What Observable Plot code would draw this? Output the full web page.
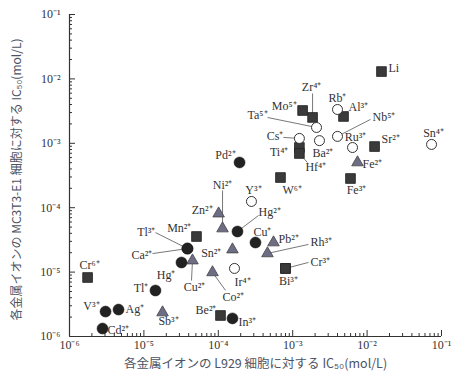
<!DOCTYPE html>
<html><head><meta charset="utf-8">
<script src="https://cdn.jsdelivr.net/npm/d3@7"></script>
<script src="https://cdn.jsdelivr.net/npm/@observablehq/plot@0.6"></script>
<style>body{margin:0;background:#fff} #chart{width:460px;height:379px}</style>
</head><body><div id="chart"></div>
<script>
// ---- data (IC50, mol/L) ----
const ions  = ["Li","Zr⁴⁺","Mo⁵⁺","Rb⁺","Al³⁺","Ta⁵⁺","Nb⁵⁺","Cs⁺","Ti⁴⁺","Hf⁴⁺","Ba²⁺","Ru³⁺","Sr²⁺","Sn⁴⁺","Fe²⁺","Fe³⁺","W⁶⁺","Pd²⁺","Y³⁺","Zn²⁺","Ni²⁺","Hg²⁺","Cu⁺","Pb²⁺","Rh³⁺","Bi³⁺","Cr³⁺","Ir⁴⁺","Co²⁺","Sn²⁺","Be²⁺","In³⁺","Mn²⁺","Tl³⁺","Ca²⁺","Hg⁺","Cu²⁺","Tl⁺","V³⁺","Ag⁺","Cd²⁺","Sb³⁺","Cr⁶⁺"];
const l929  = [1.56e-2,1.85e-3,1.36e-3,4.0e-3,4.82e-3,2.09e-3,4.0e-3,1.23e-3,1.23e-3,1.23e-3,2.29e-3,6.37e-3,1.26e-2,7.35e-2,7.43e-3,5.98e-3,6.85e-4,1.93e-4,2.79e-4,1.01e-4,1.14e-4,1.81e-4,3.16e-4,5.52e-4,4.58e-4,8.0e-4,8.0e-4,1.65e-4,8.36e-5,1.55e-4,1.07e-4,1.55e-4,5.09e-5,3.85e-5,3.85e-5,3.2e-5,4.5e-5,1.43e-5,3.05e-6,4.56e-6,2.78e-6,1.78e-5,1.75e-6];
const mc3t3 = [1.30e-2,2.52e-3,3.23e-3,3.35e-3,2.61e-3,1.76e-3,1.28e-3,1.19e-3,8.6e-4,6.95e-4,1.10e-3,8.6e-4,8.9e-4,9.6e-4,5.04e-4,2.84e-4,2.94e-4,5.04e-4,1.25e-4,8.1e-5,4.75e-5,4.27e-5,2.88e-5,2.88e-5,1.95e-5,1.14e-5,1.14e-5,1.14e-5,9.9e-6,2.24e-5,2.12e-6,1.91e-6,3.57e-5,2.32e-5,2.32e-5,1.41e-5,1.51e-5,5.18e-6,2.44e-6,2.62e-6,1.33e-6,2.36e-6,8.24e-6];
const group = ["square","square","square","open","square","open","open","open","square","square","open","open","square","open","triangle","square","square","filled","open","triangle","triangle","filled","filled","triangle","triangle","square","square","open","triangle","triangle","square","filled","square","filled","filled","filled","triangle","filled","filled","filled","filled","triangle","square"];

const decades = [1e-6,1e-5,1e-4,1e-3,1e-2,1e-1];
const tickLabels = ["10⁻⁶","10⁻⁵","10⁻⁴","10⁻³","10⁻²","10⁻¹"];
const xTitle = "各金属イオンの L929 細胞に対する IC₅₀(mol/L)";
const yTitle = "各金属イオンの MC3T3-E1 細胞に対する IC₅₀(mol/L)";

// ---- label layout (pixel offsets from marker) ----
const labelLayout = {
 "Li":["start",7,-3],"Zr⁴⁺":["middle",-1,-30],"Mo⁵⁺":["end",-6,-4],"Rb⁺":["middle",0,-11],"Al³⁺":["start",5,-9],
 "Ta⁵⁺":["end",-49,-12],"Nb⁵⁺":["start",35,-19],"Cs⁺":["end",-16,-2],"Ti⁴⁺":["end",-11,5],"Hf⁴⁺":["start",6,14],
 "Ba²⁺":["start",-7,13],"Ru³⁺":["middle",3,-10],"Sr²⁺":["start",7,-7],"Sn⁴⁺":["middle",2,-11],"Fe²⁺":["start",5,2],
 "Fe³⁺":["middle",6,12],"W⁶⁺":["start",2,13],"Pd²⁺":["end",-4,-7],"Y³⁺":["middle",2,-11],"Zn²⁺":["end",-6,-3],
 "Ni²⁺":["middle",0,-43],"Hg²⁺":["start",21,-19],"Cu⁺":["start",-2,-10],"Pb²⁺":["start",5,-3],"Rh³⁺":["start",43,-11],
 "Bi³⁺":["middle",3,13],"Cr³⁺":["start",25,-6],"Ir⁴⁺":["middle",8,14],"Co²⁺":["start",10,25],"Sn²⁺":["end",-11,4],
 "Be²⁺":["end",-4,-5],"In³⁺":["start",6,4],"Mn²⁺":["end",-5,-8],"Tl³⁺":["end",-32,-16],"Ca²⁺":["end",-35,7],
 "Hg⁺":["end",-6,13],"Cu²⁺":["middle",2,27],"Tl⁺":["end",-7,-2],"V³⁺":["end",-6,-5],"Ag⁺":["start",7,0],
 "Cd²⁺":["start",5,2],"Sb³⁺":["middle",6,9],"Cr⁶⁺":["middle",2,-12]
};
const connectors = {"Zr⁴⁺":[0,-24],"Ta⁵⁺":[-49,-10],"Nb⁵⁺":[33,-17],"Cs⁺":[-16,-1],"Hf⁴⁺":[8,9],"Ni²⁺":[0,-38],
 "Hg²⁺":[21,-16],"Rh³⁺":[41,-9],"Cr³⁺":[23,-6],"Co²⁺":[13,18],"Tl³⁺":[-32,-16],"Ca²⁺":[-35,5],"Cu²⁺":[-1,20]};

const W = 460, H = 379, ML = 69, MR = 19, MT = 14, MB = 43;
const dpx = (W - ML - MR) / 5, dpy = (H - MT - MB) / 5;

const data = ions.map((ion, i) => ({ion, x: l929[i], y: mc3t3[i], g: group[i],
  anchor: labelLayout[ion][0], dx: labelLayout[ion][1], dy: labelLayout[ion][2]}));
const links = data.filter(d => connectors[d.ion]).map(d => ({
  x1: d.x, y1: d.y,
  x2: d.x * Math.pow(10, connectors[d.ion][0] / dpx),
  y2: d.y * Math.pow(10, -connectors[d.ion][1] / dpy)}));
const minor = decades.slice(0, -1).flatMap(d => [2,3,4,5,6,7,8,9].map(k => k * d));
const fmt = d => tickLabels[decades.indexOf(d)] ?? "";

const font = "Liberation Serif, Times New Roman, serif";
const cjk = "Noto Sans CJK JP, sans-serif";
const labelMarks = data.map(d => Plot.text([d], {x: "x", y: "y", text: "ion", textAnchor: d.anchor,
  dx: d.dx, dy: d.dy, fill: "#333", fontSize: 12, fontFamily: font}));

const chart = Plot.plot({
  width: W, height: H, marginLeft: ML, marginRight: MR, marginTop: MT, marginBottom: MB,
  style: {fontFamily: font, background: "#fff"},
  x: {type: "log", domain: [1e-6, 1e-1]},
  y: {type: "log", domain: [1e-6, 1e-1]},
  marks: [
    Plot.text(decades, {x: d => d, frameAnchor: "bottom", dy: 12, text: fmt, fontSize: 12, fill: "#333", fontFamily: font}),
    Plot.text(decades, {y: d => d, frameAnchor: "left", dx: -9, textAnchor: "end", text: fmt, fontSize: 12, fill: "#333", fontFamily: font}),
    Plot.axisX({ticks: decades, tickSize: -6, tickFormat: () => "", label: null, stroke: "#333"}),
    Plot.axisY({ticks: decades, tickSize: -6, tickFormat: () => "", label: null, stroke: "#333"}),
    Plot.axisX({ticks: minor, tickSize: -3, tickFormat: () => "", label: null, stroke: "#333"}),
    Plot.axisY({ticks: minor, tickSize: -3, tickFormat: () => "", label: null, stroke: "#333"}),
    Plot.ruleX([1e-6], {stroke: "#333", strokeWidth: 1.2}),
    Plot.ruleY([1e-6], {stroke: "#333", strokeWidth: 1.2}),
    Plot.text([xTitle], {frameAnchor: "bottom", dy: 31, textAnchor: "middle", fontSize: 12.5, fill: "#4d5363", fontFamily: cjk}),
    Plot.text([yTitle], {frameAnchor: "left", dx: -52, dy: 4, textAnchor: "middle", rotate: -90, fontSize: 12, fill: "#4d5363", fontFamily: cjk}),
    Plot.link(links, {x1: "x1", y1: "y1", x2: "x2", y2: "y2", stroke: "#555", strokeWidth: 0.8}),
    Plot.dot(data.filter(d => d.g === "square"), {x: "x", y: "y", symbol: "square", r: 5.5, fill: "#3a3a3a", stroke: "#222", strokeWidth: 0.8}),
    Plot.dot(data.filter(d => d.g === "triangle"), {x: "x", y: "y", symbol: "triangle", r: 4.3, fill: "#6d6d85", stroke: "#444", strokeWidth: 0.8}),
    Plot.dot(data.filter(d => d.g === "filled"), {x: "x", y: "y", symbol: "circle", r: 5.5, fill: "#222", stroke: "#111", strokeWidth: 0.5}),
    Plot.dot(data.filter(d => d.g === "open"), {x: "x", y: "y", symbol: "circle", r: 5, fill: "#fff", stroke: "#333", strokeWidth: 1}),
    ...labelMarks
  ]
});
document.getElementById("chart").appendChild(chart);
</script>
</body></html>
